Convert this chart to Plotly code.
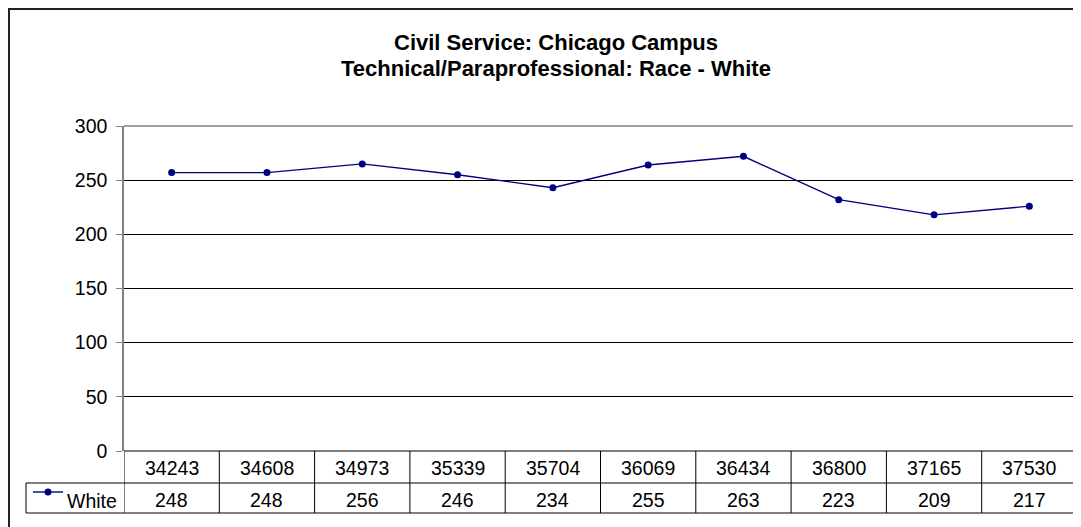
import plotly.graph_objects as go

# page body adds an 8px offset, so the figure is drawn 8px smaller
OFF = 8
W, H = 1081 - OFF, 527 - OFF

# data
years = ["34243", "34608", "34973", "35339", "35704",
         "36069", "36434", "36800", "37165", "37530"]
white = [248, 248, 256, 246, 234, 255, 263, 223, 209, 217]
# the markers in the picture sit about 9 above the table values
plotted = [257, 257, 265, 255, 243, 264, 272, 232, 218, 226]
y_ticks = [0, 50, 100, 150, 200, 250, 300]
title_lines = ["Civil Service: Chicago Campus",
               "Technical/Paraprofessional: Race - White"]

FONT = "Liberation Sans, Arial, sans-serif"
NAVY = "#000080"
FS = 19.5


def px_x(p):
    return (p - OFF) / W


def px_y(p):
    return (H - (p - OFF)) / H


# plot area / table geometry in window pixels
PL, PR, PT, PB = 124, 1077, 126, 451
ROW1_B, ROW2_B, KEY_L = 483, 513, 26
KEY_Y = 492

fig = go.Figure()
fig.add_trace(
    go.Scatter(
        x=list(range(len(years))),
        y=plotted,
        name="White",
        mode="lines+markers",
        line=dict(color=NAVY, width=1.4),
        marker=dict(color=NAVY, size=7),
        showlegend=False,
    )
)

shapes = []
line_k = dict(color="#000000", width=1)
# horizontal table lines
shapes.append(dict(type="line", xref="paper", yref="paper", x0=px_x(PL), x1=px_x(PR),
                   y0=px_y(PB), y1=px_y(PB), line=line_k))
for yy in (ROW1_B, ROW2_B):
    shapes.append(dict(type="line", xref="paper", yref="paper", x0=px_x(KEY_L), x1=px_x(PR),
                       y0=px_y(yy), y1=px_y(yy), line=line_k))
# vertical table lines between categories
for i in range(len(years) + 1):
    shapes.append(dict(type="line", xref="x", yref="paper", x0=i - 0.5, x1=i - 0.5,
                       y0=px_y(PB), y1=px_y(ROW2_B), line=line_k))
shapes.append(dict(type="line", xref="paper", yref="paper", x0=px_x(KEY_L), x1=px_x(KEY_L),
                   y0=px_y(ROW1_B), y1=px_y(ROW2_B), line=line_k))
# grey plot area top
shapes.append(dict(type="line", xref="paper", yref="paper", x0=px_x(PL), x1=px_x(PR),
                   y0=px_y(PT), y1=px_y(PT), line=dict(color="#808080", width=1.5)))
# chart area border (top and left visible)
shapes.append(dict(type="line", xref="paper", yref="paper", x0=px_x(9), x1=1.0,
                   y0=px_y(9), y1=px_y(9), line=dict(color="#222222", width=2)))
shapes.append(dict(type="line", xref="paper", yref="paper", x0=px_x(9), x1=px_x(9),
                   y0=0.0, y1=px_y(8), line=dict(color="#222222", width=2)))
# legend key in the table row
shapes.append(dict(type="line", xref="paper", yref="paper", x0=px_x(33), x1=px_x(63),
                   y0=px_y(KEY_Y), y1=px_y(KEY_Y), line=dict(color=NAVY, width=1.4)))
shapes.append(dict(type="circle", xref="paper", yref="paper", x0=px_x(44.5), x1=px_x(51.5),
                   y0=px_y(KEY_Y + 3.5), y1=px_y(KEY_Y - 3.5),
                   line=dict(color=NAVY, width=0), fillcolor=NAVY))

annotations = []
for i, (yr, v) in enumerate(zip(years, white)):
    annotations.append(dict(x=i, y=px_y((PB + ROW1_B) / 2 + 1), xref="x", yref="paper",
                            text=yr, showarrow=False, yanchor="middle",
                            font=dict(size=FS, color="black")))
    annotations.append(dict(x=i, y=px_y((ROW1_B + ROW2_B) / 2 + 2), xref="x", yref="paper",
                            text=str(v), showarrow=False, yanchor="middle",
                            font=dict(size=FS, color="black")))
annotations.append(dict(x=px_x(65), y=px_y((ROW1_B + ROW2_B) / 2 + 3), xref="paper", yref="paper",
                        text="White", showarrow=False, xanchor="left", yanchor="middle",
                        font=dict(size=FS, color="black")))
for line_text, ty in zip(title_lines, (43, 69)):
    annotations.append(dict(
        x=px_x(556), y=px_y(ty), xref="paper", yref="paper", showarrow=False,
        xanchor="center", yanchor="middle", text=f"<b>{line_text}</b>",
        font=dict(size=22, color="black", family=FONT),
    ))

fig.update_layout(
    width=W,
    height=H,
    autosize=False,
    margin=dict(l=0, r=0, t=0, b=0, pad=0),
    paper_bgcolor="white",
    plot_bgcolor="white",
    font=dict(family=FONT, size=FS, color="black"),
    showlegend=False,
    shapes=shapes,
    annotations=annotations,
    xaxis=dict(
        domain=[px_x(PL), px_x(PR)],
        range=[-0.5, len(years) - 0.5],
        showticklabels=False,
        showgrid=False,
        zeroline=False,
        ticks="",
        automargin=False,
    ),
    yaxis=dict(
        domain=[px_y(PB), px_y(PT)],
        range=[0, 300],
        tickvals=y_ticks,
        showgrid=True,
        gridcolor="#000000",
        gridwidth=1,
        zeroline=False,
        showline=True,
        linecolor="#808080",
        linewidth=1.5,
        ticks="outside",
        ticklen=6,
        tickcolor="#808080",
        ticklabelstandoff=5,
        tickfont=dict(size=FS, color="black"),
        automargin=False,
    ),
)

fig.write_html("out.html")
